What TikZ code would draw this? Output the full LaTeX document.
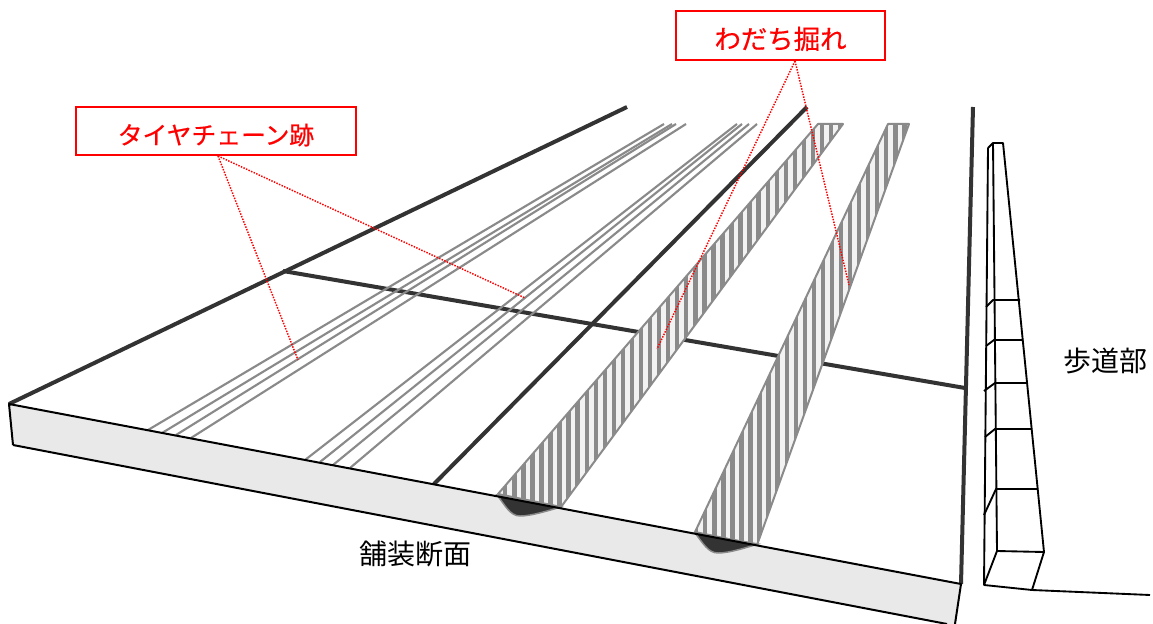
\documentclass[tikz,border=0pt]{standalone}
\usepackage{fontspec}
\newfontfamily\cjk{Noto Sans CJK JP}
\newfontfamily\cjkb[FakeBold=0.5]{Noto Sans CJK JP}
\definecolor{thick}{HTML}{333333}
\definecolor{track}{HTML}{8A8A8A}
\definecolor{side}{HTML}{E9E9E9}
\definecolor{stripeb}{HTML}{F2F2F2}
\definecolor{lred}{HTML}{FF0000}
\tikzset{
  road/.style={draw=thick,line width=3pt},
  edgeline/.style={draw=black,line width=1.5pt,line join=round},
  chain/.style={draw=track,line width=1.6pt},
  curb/.style={draw=black,line width=1.4pt,line join=round},
  callout/.style={draw=lred,line width=1.5pt,fill=white,text=lred,inner sep=0pt,anchor=center,text height=20pt,text depth=0pt},
  leader/.style={draw=lred,line width=1.1pt,densely dotted},
  caption/.style={text=black,font=\cjk\fontsize{21}{23}\selectfont,inner sep=0pt},
  rut/.style={fill=thick,draw=track,line width=1.1pt},
}
\newcommand{\hatchband}[2]{%
  \begin{scope}
    \clip #1;
    \fill[stripeb] (#2,100) rectangle (950,570);
    \foreach \k in {0,...,46}{
      \fill[track] ({#2+4+9.05*\k},100) rectangle ({#2+8.4+9.05*\k},570);
    }
  \end{scope}
  \draw[draw=track,line width=1.5pt,line join=round] #1;
}
\begin{document}
\begin{tikzpicture}[x=0.75pt,y=-0.75pt]
\useasboundingbox (0,0) rectangle (1153,624);
% slab side
\fill[side] (9,404) -- (961,584) -- (955,624) -- (947,624) -- (13,445) -- cycle;
% top markings
\draw[road] (9,404) -- (627,107);
\draw[road] (973,107) -- (961,584);
\draw[road] (434,484) -- (807,107);
\draw[road] (283,271) -- (965,388);
% chain tracks
\foreach \a/\b/\c/\d in {148/430/664/124,162/433/672/124,176/435/676/124,191/438/686/124,305/460/737/124,320/462/742/124,333/465/749/124,350/468/757/124}{
  \draw[chain] (\a,\b) -- (\c,\d);
}
% ruts
\hatchband{(498,494) -- (818,124) -- (843,124) -- (561,507) -- cycle}{490}
\hatchband{(695,532) -- (888,124) -- (909,124) -- (757,545) -- cycle}{690}
\draw[rut] (497,495) .. controls (505,505) and (510,516) .. (520,516) .. controls (532,516) and (550,510) .. (561,507) -- cycle;
\draw[rut] (695,533) .. controls (703,543) and (708,553) .. (718,553) .. controls (730,553) and (748,547) .. (758,544) -- cycle;
% slab edges
\draw[edgeline] (13,445) -- (9,404) -- (961,584) -- (955,624);
\draw[edgeline] (13,445) -- (947,624);
% curb
\draw[curb] (988,148) -- (993,143) -- (1003,143) -- (1044,552) -- (1032,590) -- (984,585) -- (988,148);
\draw[curb] (993,143) -- (997,551) -- (984,585);
\draw[curb] (997,551) -- (1044,552);
\draw[curb] (1032,590) -- (1150,595);
\foreach \l/\m/\r/\s/\t in {986/307/993/300/1020,986/346/994/340/1023,984/391/995/383/1027,985/437/995/429/1032,984/515/996/489/1038}{
  \draw[curb] (\l,\m) -- (\r,\s) -- (\t,\s);
}
% labels
\node[callout,font=\cjkb\fontsize{18.6}{20}\selectfont,minimum width=210pt,minimum height=36pt] (tc) at (216,131) {タイヤチェーン跡};
\node[callout,font=\cjkb\fontsize{19.8}{21}\selectfont,minimum width=156.75pt,minimum height=36.75pt] (wd) at (780.5,35.5) {わだち掘れ};
\coordinate (tcs) at (218,156);
\coordinate (tc1) at (298,360);
\coordinate (tc2) at (525,298);
\coordinate (wds) at (795,61);
\coordinate (wd1) at (657,349);
\coordinate (wd2) at (849,285);
\draw[leader] (tcs) -- (tc1);
\draw[leader] (tcs) -- (tc2);
\draw[leader] (wds) -- (wd1);
\draw[leader] (wds) -- (wd2);
\node[caption] (pv) at (415,554) {舗装断面};
\node[caption] (sw) at (1105,361) {歩道部};
\end{tikzpicture}
\end{document}
